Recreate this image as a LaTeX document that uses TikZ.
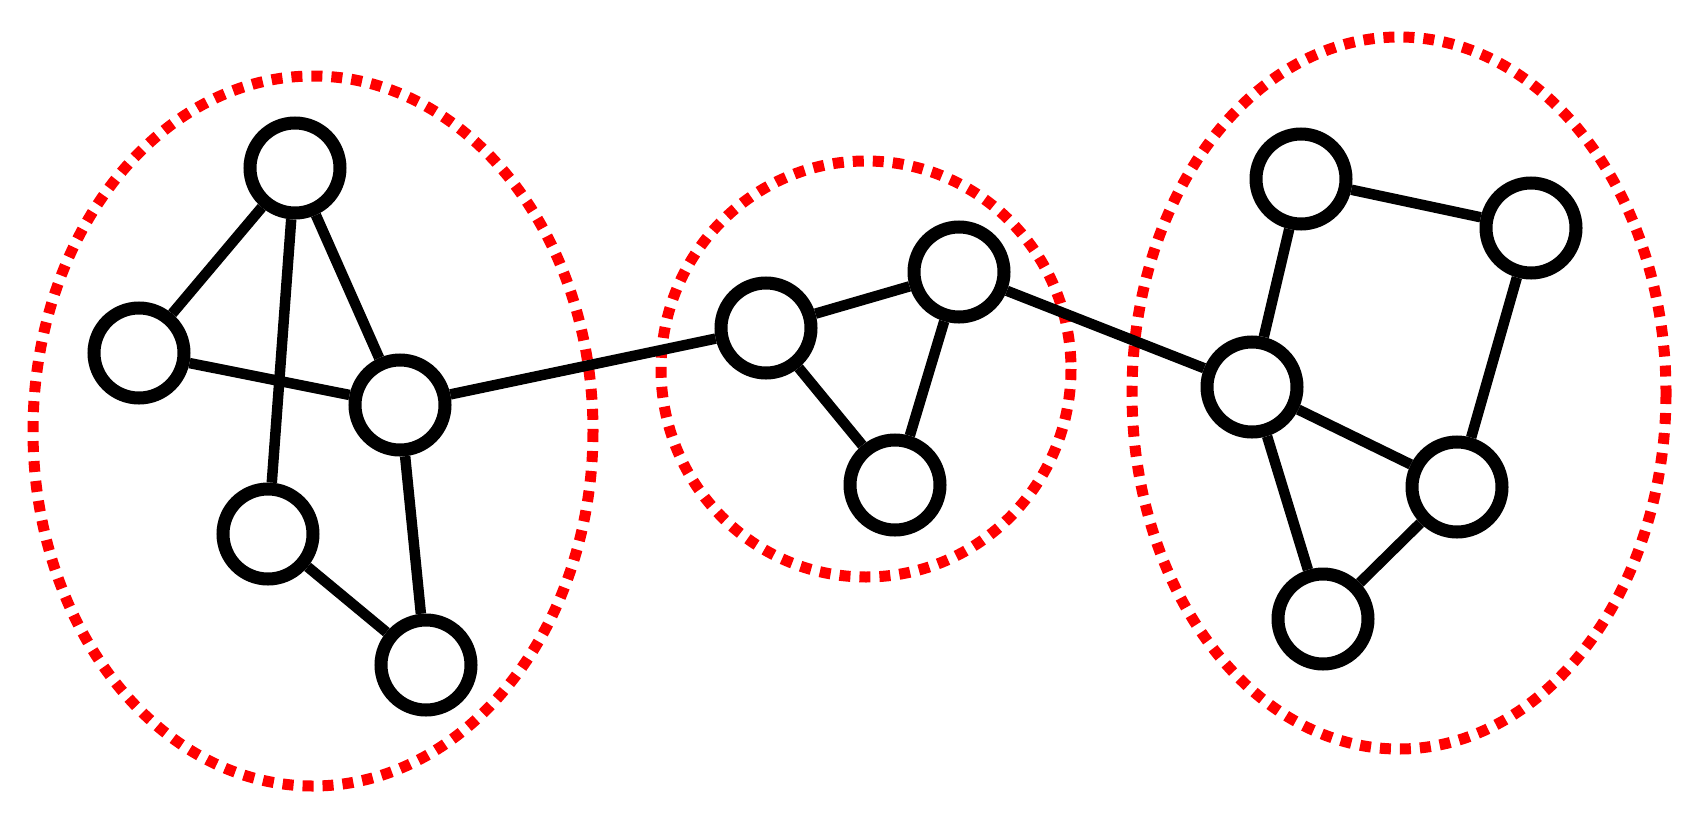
\documentclass[tikz,border=0pt]{standalone}
\begin{document}
\begin{tikzpicture}[x=1pt,y=-1pt,
  vtx/.style={circle,draw=black,line width=13pt,minimum size=90pt,inner sep=0pt,fill=white},
  edge/.style={line width=10.5pt,black},
  grp/.style={draw=red,line width=11pt,dash pattern=on 11pt off 9pt}]
\useasboundingbox (0,0) rectangle (1703,825);
\draw[grp] (313,431) ellipse [x radius=280,y radius=355];
\draw[grp] (866,369) ellipse [x radius=205,y radius=208];
\draw[grp] (1399,393) ellipse [x radius=267,y radius=356];
\node[vtx] (A) at (295,168) {};
\node[vtx] (B) at (139,353) {};
\node[vtx] (C) at (400,405) {};
\node[vtx] (D) at (268,534) {};
\node[vtx] (E) at (426,665) {};
\node[vtx] (F) at (766,328) {};
\node[vtx] (G) at (959,272) {};
\node[vtx] (H) at (895,485) {};
\node[vtx] (I) at (1252,387) {};
\node[vtx] (J) at (1301,179) {};
\node[vtx] (K) at (1531,228) {};
\node[vtx] (L) at (1457,487) {};
\node[vtx] (M) at (1323,619) {};
\draw[edge] (A) -- (B);
\draw[edge] (A) -- (C);
\draw[edge] (A) -- (D);
\draw[edge] (B) -- (C);
\draw[edge] (C) -- (E);
\draw[edge] (D) -- (E);
\draw[edge] (C) -- (F);
\draw[edge] (F) -- (G);
\draw[edge] (F) -- (H);
\draw[edge] (G) -- (H);
\draw[edge] (G) -- (I);
\draw[edge] (J) -- (K);
\draw[edge] (J) -- (I);
\draw[edge] (K) -- (L);
\draw[edge] (I) -- (L);
\draw[edge] (I) -- (M);
\draw[edge] (L) -- (M);
\end{tikzpicture}
\end{document}
